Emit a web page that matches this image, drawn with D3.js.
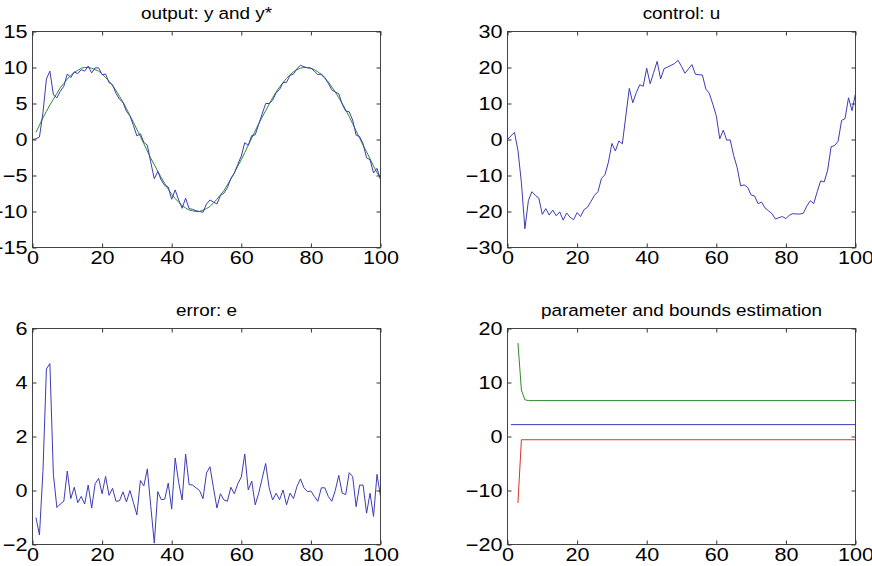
<!DOCTYPE html>
<html>
<head>
<meta charset="utf-8">
<script src="https://cdnjs.cloudflare.com/ajax/libs/d3/7.8.5/d3.min.js"></script>
<style>
body { margin: 0; background: #fff; }
.domain { display: none; }
.tick line { stroke: #333; }
.tick text { font-family: "Liberation Sans", Arial, sans-serif; font-size: 18px; fill: #000; }
.title { font-family: "Liberation Sans", Arial, sans-serif; font-size: 15.75px; fill: #000; }
</style>
</head>
<body>
<div id="chart-area"></div>
<script>
// time steps
var steps = d3.range(0, 101);
var stepsFrom1 = d3.range(1, 101);

// output y (t = 0..100)
var outputY = [0, 0.1, 0.35, 3.7, 8.4, 9.5, 6.2, 5.8, 6.7, 7.4,
    9.1, 8.6, 9.4, 9.15, 9.7, 9.5, 10.2, 9.25, 9.95, 9.95,
    9.0, 9.1, 7.9, 7.6, 6.4, 5.6, 5.15, 3.9, 3.3, 1.95,
    0.5, 0.8, -0.4, -0.8, -3.2, -5.45, -4.45, -5.65, -6.4, -6.6,
    -8.3, -7.0, -8.4, -9.55, -8.15, -9.6, -9.7, -9.9, -10.0, -10.1,
    -8.95, -8.4, -8.7, -8.95, -7.8, -7.45, -6.7, -5.4, -4.7, -3.45,
    -2.3, -0.45, -0.8, 0.55, 0.65, 2.1, 3.55, 5.0, 5.0, 5.45,
    6.5, 6.95, 7.9, 7.95, 8.9, 9.1, 9.85, 10.3, 10.1, 9.95,
    9.9, 9.5, 9.0, 9.1, 8.6, 7.8, 6.9, 6.6, 6.35, 4.9,
    3.95, 3.85, 2.7, 0.6, 0.4, -0.6, -2.55, -2.8, -4.65, -4.0,
    -5.6];

// reference y* (t = 1..100)
var refY = [1.0, 2.0, 3.0, 3.9, 4.8, 5.6, 6.4, 7.2, 7.8, 8.4,
    8.9, 9.3, 9.6, 9.9, 10.0, 10.0, 9.9, 9.7, 9.5, 9.1,
    8.6, 8.1, 7.5, 6.8, 6.0, 5.2, 4.3, 3.3, 2.4, 1.4,
    0.4, -0.6, -1.6, -2.6, -3.5, -4.4, -5.3, -6.1, -6.9, -7.6,
    -8.2, -8.7, -9.2, -9.5, -9.8, -9.9, -10.0, -10.0, -9.8, -9.6,
    -9.3, -8.8, -8.3, -7.7, -7.1, -6.3, -5.5, -4.6, -3.7, -2.8,
    -1.8, -0.8, 0.2, 1.2, 2.2, 3.1, 4.0, 4.9, 5.8, 6.6,
    7.3, 7.9, 8.5, 9.0, 9.4, 9.7, 9.9, 10.0, 10.0, 9.9,
    9.7, 9.4, 9.0, 8.5, 8.0, 7.3, 6.6, 5.8, 5.0, 4.1,
    3.2, 2.2, 1.2, 0.2, -0.8, -1.7, -2.7, -3.7, -4.6, -5.4];

// control u (t = 0..100)
var controlU = [0, 1.0, 2.0, -3.0, -12.0, -24.8, -17.0, -14.5, -15.5, -16.3,
    -20.8, -19.2, -21.0, -19.6, -21.2, -20.1, -22.4, -20.4, -21.6, -22.3,
    -20.3, -21.4, -19.5, -18.8, -17.2, -15.5, -14.5, -10.8, -9.8, -6.3,
    -1.1, -3.2, -0.4, -1.2, 6.5, 14.2, 10.2, 13.0, 15.2, 14.8,
    19.8, 15.5, 18.6, 21.7, 16.8, 19.7, 20.1, 20.6, 21.1, 22.0,
    20.3, 18.4, 19.6, 20.8, 18.1, 18.0, 17.9, 14.0, 12.8, 9.8,
    6.6, 0.2, 2.6, -0.2, -0.1, -4.5, -7.8, -12.9, -12.6, -13.3,
    -15.4, -15.7, -17.8, -17.4, -19.0, -19.8, -20.6, -22.1, -21.7, -21.4,
    -22.0, -21.0, -20.6, -20.7, -20.7, -20.5, -18.5, -17.0, -17.8, -14.5,
    -11.5, -11.8, -8.5, -2.0, -1.7, -0.5, 5.3, 5.8, 11.6, 8.0,
    12.8];

// error e (t = 1..100)
var errorE = [-1.0, -1.65, 0.7, 4.5, 4.7, 0.6, -0.63, -0.5, -0.4, 0.72,
    -0.3, 0.12, -0.45, -0.22, -0.5, 0.2, -0.65, 0.25, 0.45, -0.12,
    0.52, -0.18, 0.08, -0.4, -0.38, -0.05, -0.42, 0.0, -0.45, -0.9,
    0.37, 0.17, 0.8, -0.6, -1.95, -0.04, -0.34, -0.32, 0.27, -0.69,
    1.2, 0.3, -0.35, 1.35, 0.22, 0.2, 0.1, 0.0, -0.3, 0.65,
    0.88, 0.1, -0.65, -0.12, -0.35, -0.4, 0.12, -0.12, 0.25, 0.5,
    1.35, 0.02, 0.35, -0.53, -0.1, 0.45, 1.0, 0.1, -0.35, -0.1,
    -0.34, 0.02, -0.53, -0.1, -0.3, 0.15, 0.43, 0.1, -0.04, -0.02,
    -0.22, -0.4, 0.1, 0.1, -0.22, -0.4, 0.0, 0.56, -0.1, -0.15,
    0.66, 0.52, -0.6, 0.2, 0.2, -0.84, -0.1, -0.96, 0.6, -0.22];

// parameter and bounds (breakpoints of the traces)
var estT = [1, 100], estimate = [2.2, 2.2];
var upperT = [3, 4, 5, 6, 100], upperBound = [17.3, 8.6, 6.8, 6.65, 6.65];
var lowerT = [3, 4, 100], lowerBound = [-12.3, -0.6, -0.6];

// ticks
var xTicks = [0, 20, 40, 60, 80, 100];
var outputTicks = [-15, -10, -5, 0, 5, 10, 15];
var controlTicks = [-30, -20, -10, 0, 10, 20, 30];
var errorTicks = [-2, 0, 2, 4, 6];
var paramTicks = [-20, -10, 0, 10, 20];

var blue = "#3c3cb4", green = "#2f8a2f", red = "#d83232";
var width = 348, height = 216;

var svg = d3.select("#chart-area")
    .append("svg")
        .attr("width", 872)
        .attr("height", 566);

function panel(left, top, title, yDomain, yTicks, series) {
    var g = svg.append("g")
        .attr("transform", "translate(" + left + "," + top + ")");

    var x = d3.scaleLinear().domain([0, 100]).range([0, width]);
    var y = d3.scaleLinear().domain(yDomain).range([height, 0]);

    var line = d3.line()
        .x(d => x(d[0]))
        .y(d => y(d[1]));

    series.forEach(s => {
        g.append("path")
            .datum(d3.zip(s.t, s.v))
            .attr("fill", "none")
            .attr("stroke", s.color)
            .attr("stroke-width", 1)
            .attr("d", line);
    });

    // box
    g.append("rect")
        .attr("width", width)
        .attr("height", height)
        .attr("fill", "none")
        .attr("stroke", "#444");

    g.append("g")
        .attr("transform", "translate(0," + height + ")")
        .call(d3.axisBottom(x).tickValues(xTicks).tickSize(-4).tickPadding(4))
        .selectAll("text").attr("transform", "scale(1.2,1)");
    g.append("g")
        .call(d3.axisTop(x).tickValues(xTicks).tickSize(-4).tickFormat(""));
    g.append("g")
        .call(d3.axisLeft(y).tickValues(yTicks).tickSize(-4).tickPadding(4.2))
        .selectAll("text").attr("transform", "scale(1.2,1)");
    g.append("g")
        .attr("transform", "translate(" + width + ",0)")
        .call(d3.axisRight(y).tickValues(yTicks).tickSize(-4).tickFormat(""));

    g.append("text")
        .attr("class", "title")
        .attr("text-anchor", "middle")
        .attr("transform", "translate(" + (width / 2) + ",-13) scale(1.2,1)")
        .text(title);
}

panel(32.5, 31.5, "output: y and y*", [-15, 15], outputTicks, [
    {t: stepsFrom1, v: refY, color: green},
    {t: steps, v: outputY, color: blue}
]);
panel(507.5, 31.5, "control: u", [-30, 30], controlTicks, [
    {t: steps, v: controlU, color: blue}
]);
panel(32.5, 328.5, "error: e", [-2, 6], errorTicks, [
    {t: stepsFrom1, v: errorE, color: blue}
]);
panel(507.5, 328.5, "parameter and bounds estimation", [-20, 20], paramTicks, [
    {t: upperT, v: upperBound, color: green},
    {t: estT, v: estimate, color: blue},
    {t: lowerT, v: lowerBound, color: red}
]);
</script>
</body>
</html>
